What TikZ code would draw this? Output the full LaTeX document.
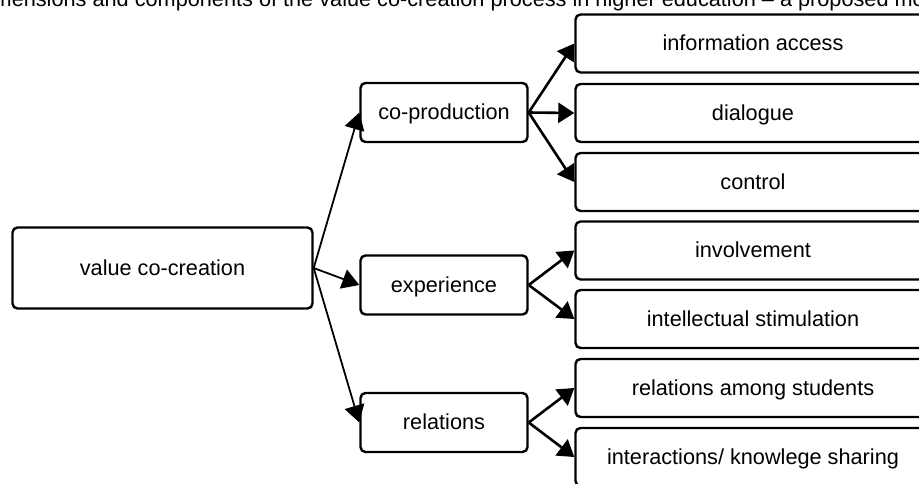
\documentclass[tikz,border=0pt]{standalone}
\usepackage{fontspec}
\setmainfont{Liberation Sans}
\usetikzlibrary{arrows.meta}
\begin{document}
\begin{tikzpicture}[x=1pt,y=-1pt,
  box/.style={draw, line width=2.4pt, rounded corners=5pt, inner sep=0pt,
    font=\fontsize{21.7}{26}\selectfont, text height=18.5pt, text depth=4pt, align=center},
  leafbox/.style={box, minimum width=355pt, minimum height=58pt},
  midbox/.style={box, minimum width=167pt, minimum height=59pt},
  link/.style={line width=1.8pt, -{Triangle[length=17pt,width=20pt]}},
  sublink/.style={line width=2.6pt, -{Triangle[length=16pt,width=20pt]}},
  captionstyle/.style={inner sep=0pt, anchor=base west, font=\fontsize{21.7}{26}\selectfont}
]
\useasboundingbox (0,0) rectangle (919,483);
\clip (0,0) rectangle (919,483);
\node[captionstyle] (cap) at (-27,6) {Dimensions and components of the value co-creation process in higher education – a proposed model};

\node[box, minimum width=300pt, minimum height=81pt] (vcc) at (162.5,268) {value co-creation};

\node[midbox] (cop) at (444,112.5) {co-production};
\node[midbox] (exp) at (444,285) {experience};
\node[midbox] (rel) at (444,422.5) {relations};

\node[leafbox] (ia) at (753,43.5) {information access};
\node[leafbox] (dia) at (753,113) {dialogue};
\node[leafbox] (ctl) at (753,182) {control};
\node[leafbox] (inv) at (753,250.5) {involvement};
\node[leafbox] (int) at (753,319) {intellectual stimulation};
\node[leafbox] (ram) at (753,388) {relations among students};
\node[leafbox] (iks) at (753,457) {interactions/ knowlege sharing};

\draw[link] (vcc.east) -- (cop.west);
\draw[link] (vcc.east) -- (exp.west);
\draw[link] (vcc.east) -- (rel.west);

\draw[sublink] (cop.east) -- (ia.west);
\draw[sublink] (cop.east) -- (dia.west);
\draw[sublink] (cop.east) -- (ctl.west);
\draw[sublink] (exp.east) -- (inv.west);
\draw[sublink] (exp.east) -- (int.west);
\draw[sublink] (rel.east) -- (ram.west);
\draw[sublink] (rel.east) -- (iks.west);
\end{tikzpicture}
\end{document}
